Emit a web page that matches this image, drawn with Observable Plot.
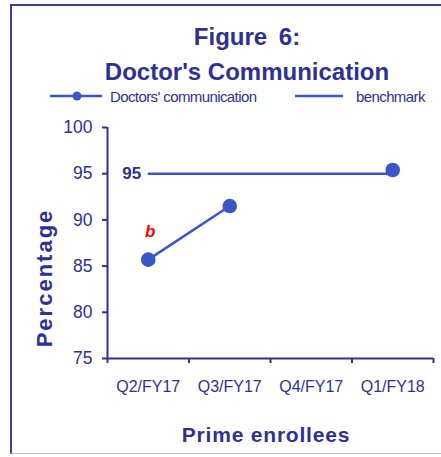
<!DOCTYPE html>
<html><head><meta charset="utf-8">
<script src="https://cdn.jsdelivr.net/npm/d3@7"></script>
<script src="https://cdn.jsdelivr.net/npm/@observablehq/plot@0.6"></script>
<style>
body{margin:0;background:#fff;font-family:"Liberation Sans",Arial,sans-serif;}
#wrap{position:relative;width:441px;height:457px;overflow:hidden;}
#frame{position:absolute;left:10px;top:4px;width:440px;height:450px;border-left:2px solid #3d3f9c;border-top:2px solid #3d3f9c;border-bottom:1px solid #b8b9dd;box-sizing:border-box;}
#chart,#overlay{position:absolute;left:0;top:0;}
</style></head>
<body>
<div id="wrap"><div id="frame"></div><div id="chart"></div><svg id="overlay" width="441" height="457"></svg></div>
<script>
const quarters = ["Q2/FY17", "Q3/FY17", "Q4/FY17", "Q1/FY18"];
const doctorsComm = [85.7, 91.5, NaN, 95.4];
const benchmark = 95;
const yTicks = [75, 80, 85, 90, 95, 100];
const annotations = [{quarter: "Q2/FY17", text: "b"}];
const titleLines = ["Figure 6:", "Doctor's Communication"];
const legendLabels = ["Doctors' communication", "benchmark"];
const xTitle = "Prime enrollees";
const yTitle = "Percentage";

const navy = "#2e3192";
const blue = "#3b56c4";

const data = quarters.map((q, i) => ({q, i: i + 0.5, v: doctorsComm[i]}));
const ann = annotations.map(a => ({...a, i: quarters.indexOf(a.quarter) + 0.5, v: doctorsComm[quarters.indexOf(a.quarter)]}));

const plot = Plot.plot({
  width: 441, height: 457,
  marginTop: 127, marginBottom: 99, marginLeft: 107, marginRight: 8,
  style: {color: navy, fontFamily: '"Liberation Sans", Arial, sans-serif', background: "transparent"},
  x: {domain: [0, quarters.length]},
  y: {domain: [75, 100]},
  marks: [
    Plot.axisY(yTicks, {tickSize: 5, tickPadding: 10, fontSize: 17.5, strokeWidth: 2, label: null}),
    Plot.axisX(d3.range(quarters.length + 1), {tickSize: 5, tickFormat: () => "", strokeWidth: 2, label: null}),
    Plot.axisX(quarters.map((d, i) => i + 0.5), {tickSize: 0, tickPadding: 22, fontSize: 16, tickFormat: v => quarters[Math.round(v - 0.5)], label: null}),
    Plot.ruleX([0], {strokeWidth: 2}),
    Plot.ruleY([75], {strokeWidth: 2}),
    Plot.ruleY([benchmark], {x1: 0.5, x2: quarters.length - 0.5, stroke: blue, strokeWidth: 2.5}),
    Plot.text([benchmark], {x: () => 0.5, y: d => d, text: d => String(d), textAnchor: "end", dx: -7, fontWeight: "bold", fontSize: 17, fill: navy}),
    Plot.line(data, {x: "i", y: "v", stroke: blue, strokeWidth: 2.5}),
    Plot.dot(data.filter(d => !isNaN(d.v)), {x: "i", y: "v", r: 7.3, fill: blue, stroke: null}),
    Plot.text(ann, {x: "i", y: "v", text: "text", dy: -28, dx: 2, fill: "#ff0000", fontStyle: "italic", fontWeight: "bold", fontSize: 17})
  ]
});
document.getElementById("chart").append(plot);

const ov = d3.select("#overlay").style("font-family", '"Liberation Sans", Arial, sans-serif');
ov.selectAll("text.title").data(titleLines).join("text")
  .attr("x", 247).attr("y", (d, i) => [45, 80][i])
  .attr("text-anchor", "middle").attr("font-weight", "bold").attr("font-size", 24)
  .attr("word-spacing", (d, i) => i === 0 ? 5 : 0)
  .attr("fill", navy).text(d => d);
// legend
ov.append("line").attr("x1", 50).attr("x2", 102).attr("y1", 96).attr("y2", 96).attr("stroke", blue).attr("stroke-width", 2.5);
ov.append("circle").attr("cx", 77).attr("cy", 96).attr("r", 4.5).attr("fill", blue);
ov.append("line").attr("x1", 295).attr("x2", 343).attr("y1", 96).attr("y2", 96).attr("stroke", blue).attr("stroke-width", 2.5);
ov.selectAll("text.leg").data(legendLabels).join("text")
  .attr("x", (d, i) => [110, 356][i]).attr("y", 102)
  .attr("font-size", 15).attr("letter-spacing", -0.6).attr("fill", navy).text(d => d);
// axis titles
ov.append("text").attr("transform", "translate(52,278) rotate(-90)").attr("text-anchor", "middle")
  .attr("font-weight", "bold").attr("font-size", 22).attr("letter-spacing", 2).attr("fill", navy).text(yTitle);
ov.append("text").attr("x", 266).attr("y", 442).attr("text-anchor", "middle")
  .attr("font-weight", "bold").attr("font-size", 21).attr("letter-spacing", 0.8).attr("fill", navy).text(xTitle);
</script>
</body></html>
